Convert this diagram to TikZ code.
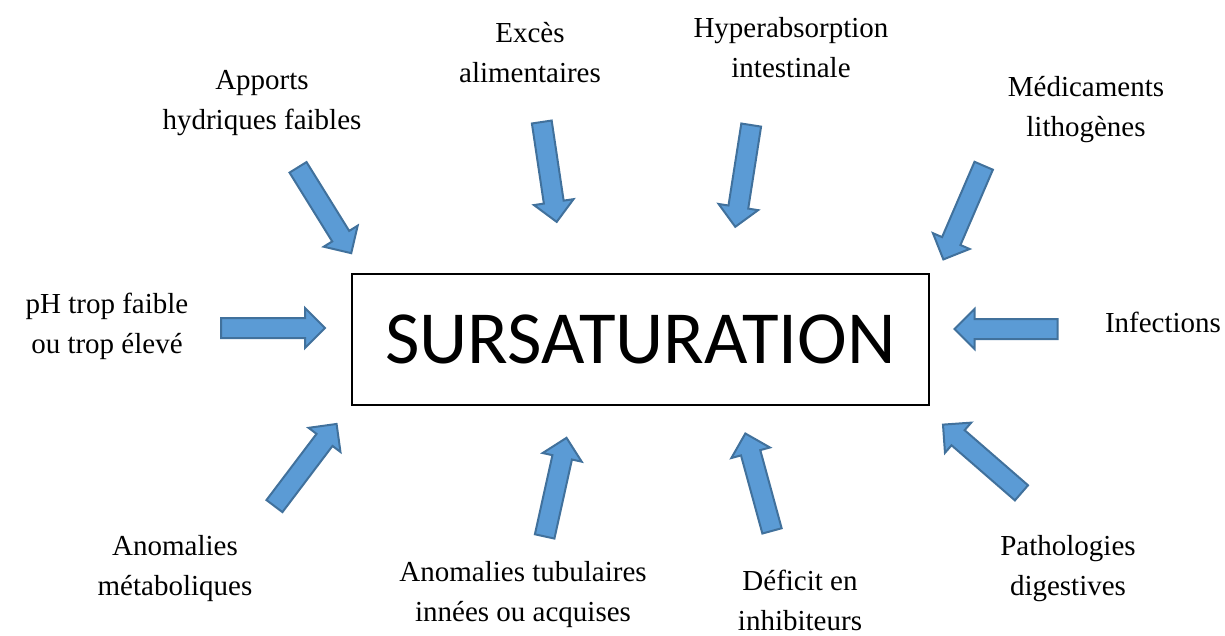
\documentclass[tikz,border=0pt]{standalone}
\usepackage{fontspec}
\setmainfont{Liberation Serif}
\newfontfamily\boxfont{Carlito}
\usetikzlibrary{shapes.arrows}
\definecolor{arrowblue}{RGB}{91,155,213}
\definecolor{arrowedge}{RGB}{65,113,156}
\tikzset{
  cause/.style={align=center, font=\fontsize{29}{40}\selectfont, inner sep=0pt},
  blockarrow/.style={single arrow, draw=arrowedge, fill=arrowblue, line width=2pt,
    single arrow head extend=10pt, single arrow tip angle=90,
    inner xsep=0pt, inner ysep=9pt},
  core/.style={draw, line width=1.5pt, minimum width=577pt, minimum height=131pt,
    font=\boxfont\fontsize{75}{80}\selectfont},
}

\begin{document}
\begin{tikzpicture}[x=1pt, y=-1pt]
  \useasboundingbox (0,0) rectangle (1225,635);
  % centre
  \node[core] (sursat) at (640.5,339.5) {SURSATURATION};
  % causes
  \node[cause] (apports) at (262,103) {Apports\\hydriques faibles};
  \node[cause] (exces) at (530,53) {Excès\\alimentaires};
  \node[cause] (hyper) at (791,48) {Hyperabsorption\\intestinale};
  \node[cause] (medic) at (1086,110) {Médicaments\\lithogènes};
  \node[cause] (ph) at (107,326) {pH trop faible\\ou trop élevé};
  \node[cause] (infect) at (1163,322) {Infections};
  \node[cause] (metab) at (175,569) {Anomalies\\métaboliques};
  \node[cause] (tubul) at (523,595) {Anomalies tubulaires\\innées ou acquises};
  \node[cause] (deficit) at (800,600) {Déficit en\\inhibiteurs};
  \node[cause] (digest) at (1068,569) {Pathologies\\digestives};
  % arrows
  \node[blockarrow, minimum height=101pt, rotate=-58.2] (toapports) at (322,206) {};
  \node[blockarrow, minimum height=101pt, rotate=-81.5] (toexces) at (548.5,167) {};
  \node[blockarrow, minimum height=103pt, rotate=-98.9] (tohyper) at (744,171) {};
  \node[blockarrow, minimum height=102pt, rotate=-113.3] (tomedic) at (965.5,208) {};
  \node[blockarrow, minimum height=104pt, rotate=0] (toph) at (268,328) {};
  \node[blockarrow, minimum height=103pt, rotate=180] (toinfect) at (1011,329) {};
  \node[blockarrow, minimum height=103pt, rotate=52.9] (tometab) at (302.5,469) {};
  \node[blockarrow, minimum height=101pt, rotate=77.5] (totubul) at (554.5,492) {};
  \node[blockarrow, minimum height=101pt, rotate=105.3] (todeficit) at (760,487) {};
  \node[blockarrow, minimum height=104pt, rotate=139] (todigest) at (986,462) {};
\end{tikzpicture}
\end{document}
